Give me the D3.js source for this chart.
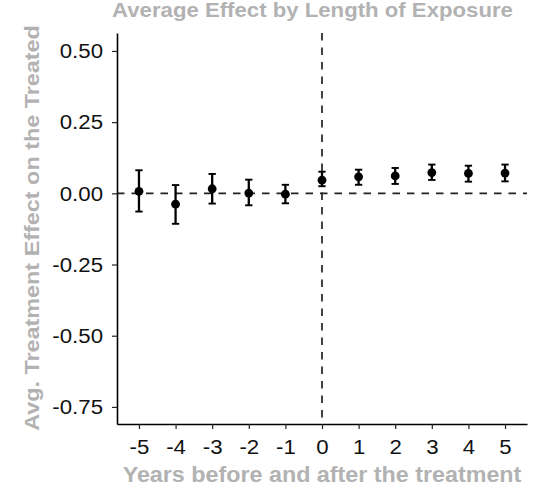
<!DOCTYPE html>
<html>
<head>
<meta charset="utf-8">
<script src="https://cdn.jsdelivr.net/npm/d3@7"></script>
<style>
  html, body { margin: 0; padding: 0; background: #ffffff; }
  svg { display: block; }
  text { font-family: "Liberation Sans", Arial, Helvetica, sans-serif; }
</style>
</head>
<body>
<script>
// Event-study estimates: average treatment effect by years relative to treatment
const years     = [-5, -4, -3, -2, -1, 0, 1, 2, 3, 4, 5];
const estimates = [0.007, -0.038, 0.016, 0.001, -0.003, 0.046, 0.058, 0.061, 0.073, 0.070, 0.071];
const ciLower   = [-0.064, -0.107, -0.036, -0.042, -0.035, 0.025, 0.030, 0.033, 0.047, 0.041, 0.042];
const ciUpper   = [0.081, 0.029, 0.068, 0.048, 0.030, 0.076, 0.083, 0.089, 0.101, 0.097, 0.101];

const xTickValues = [-5, -4, -3, -2, -1, 0, 1, 2, 3, 4, 5];
const xTickLabels = ["-5", "-4", "-3", "-2", "-1", "0", "1", "2", "3", "4", "5"];
const yTickValues = [0.50, 0.25, 0.00, -0.25, -0.50, -0.75];
const yTickLabels = ["0.50", "0.25", "0.00", "-0.25", "-0.50", "-0.75"];

const titleText  = "Average Effect by Length of Exposure";
const xTitleText = "Years before and after the treatment";
const yTitleText = "Avg. Treatment Effect on the Treated";

const W = 546, H = 502;
const panel = { left: 117, right: 527, top: 33, bottom: 424 };
const titleGrey = "#b2b2b2";
const textStretch = 1.14;   // wide lettering used throughout

const x = d3.scaleLinear().domain([-5.6, 5.6]).range([panel.left, panel.right]);
const y = d3.scaleLinear().domain([-0.81, 0.563]).range([panel.bottom, panel.top]);

const svg = d3.select("body").append("svg")
  .attr("width", W).attr("height", H);
svg.append("rect").attr("width", W).attr("height", H).attr("fill", "#ffffff");

const rows = years.map((yr, i) => ({ yr, est: estimates[i], lo: ciLower[i], hi: ciUpper[i] }));

// reference lines at zero effect and at treatment onset
svg.append("line")
  .attr("x1", panel.left).attr("x2", panel.right)
  .attr("y1", y(0)).attr("y2", y(0))
  .attr("stroke", "#222").attr("stroke-width", 1.7)
  .attr("stroke-dasharray", "7.5,7");
svg.append("line")
  .attr("x1", x(0)).attr("x2", x(0))
  .attr("y1", panel.top).attr("y2", panel.bottom)
  .attr("stroke", "#222").attr("stroke-width", 1.7)
  .attr("stroke-dasharray", "7.5,7");

// error bars with caps
const capHalf = x(0.1) - x(0);
const bars = svg.append("g").selectAll("g").data(rows).join("g");
bars.append("line")
  .attr("x1", d => x(d.yr)).attr("x2", d => x(d.yr))
  .attr("y1", d => y(d.lo)).attr("y2", d => y(d.hi))
  .attr("stroke", "#000").attr("stroke-width", 2.3);
bars.append("line")
  .attr("x1", d => x(d.yr) - capHalf).attr("x2", d => x(d.yr) + capHalf)
  .attr("y1", d => y(d.hi)).attr("y2", d => y(d.hi))
  .attr("stroke", "#000").attr("stroke-width", 1.9);
bars.append("line")
  .attr("x1", d => x(d.yr) - capHalf).attr("x2", d => x(d.yr) + capHalf)
  .attr("y1", d => y(d.lo)).attr("y2", d => y(d.lo))
  .attr("stroke", "#000").attr("stroke-width", 1.9);

// point estimates
svg.append("g").selectAll("circle").data(rows).join("circle")
  .attr("cx", d => x(d.yr)).attr("cy", d => y(d.est))
  .attr("r", 4.4).attr("fill", "#000");

// axes
const yAxis = svg.append("g")
  .attr("transform", `translate(${panel.left},0)`)
  .call(d3.axisLeft(y).tickValues(yTickValues)
    .tickFormat((d, i) => yTickLabels[i]).tickSize(5).tickSizeOuter(0));
const xAxis = svg.append("g")
  .attr("transform", `translate(0,${panel.bottom})`)
  .call(d3.axisBottom(x).tickValues(xTickValues)
    .tickFormat((d, i) => xTickLabels[i]).tickSize(5).tickSizeOuter(0));

[yAxis, xAxis].forEach(a => {
  a.select(".domain").attr("stroke", "#000").attr("stroke-width", 1.6);
  a.selectAll(".tick line").attr("stroke", "#222").attr("stroke-width", 1.2);
  a.selectAll(".tick text")
    .attr("fill", "#111").attr("font-size", 19.5)
    .attr("font-family", "'Liberation Sans', Arial, sans-serif");
});
yAxis.selectAll(".tick text")
  .attr("x", null).attr("dy", "0.35em")
  .attr("text-anchor", "end")
  .attr("transform", `translate(-14,0) scale(${textStretch},1)`);
xAxis.selectAll(".tick text")
  .attr("y", null).attr("dy", null)
  .attr("text-anchor", "middle")
  .attr("transform", `translate(0,30) scale(${textStretch},1)`);

// titles, stretched to their set width
function fittedText(cx, cy, str, size, width, rotate) {
  const g = svg.append("g").attr("transform", `translate(${cx},${cy})` + (rotate ? " rotate(-90)" : ""));
  const t = g.append("text")
    .attr("text-anchor", "middle")
    .attr("font-size", size).attr("font-weight", "bold")
    .attr("fill", titleGrey).text(str);
  const natural = t.node().getComputedTextLength();
  t.attr("transform", `scale(${width / natural},1)`);
  return t;
}
fittedText(312.5, 17, titleText, 20, 401, false);
fittedText(322, 482, xTitleText, 21.5, 399, false);
fittedText(39.3, 228, yTitleText, 20, 406, true);
</script>
</body>
</html>
